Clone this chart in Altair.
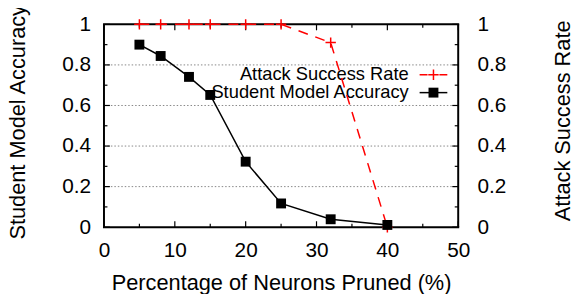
import altair as alt
import pandas as pd

# ---- data ----
pruned = [5, 8, 12, 15, 20, 25, 32, 40]
student_acc = [0.90, 0.844, 0.741, 0.652, 0.323, 0.117, 0.039, 0.011]
attack_sr = [1.0, 1.0, 1.0, 1.0, 1.0, 1.0, 0.91, 0.0]

x_major = [0, 10, 20, 30, 40, 50]
x_minor = [5, 15, 25, 35, 45]
y_major = [0, 0.2, 0.4, 0.6, 0.8, 1]
y_minor = [0.1, 0.3, 0.5, 0.7, 0.9]
y_grid = [0.2, 0.4, 0.6, 0.8]
legend_labels = ["Attack Success Rate", "Student Model Accuracy"]

W, H = 358, 205
FONT = "Liberation Sans"
RED = "#ff0000"
PLUS = "M-1,0H1M0,-1V1"
TFS = 22

df = pd.DataFrame({"x": pruned, "acc": student_acc, "asr": attack_sr})
d_xmaj = pd.DataFrame({"x": x_major})
d_xmin = pd.DataFrame({"x": x_minor})
d_ymaj = pd.DataFrame({"acc": y_major})
d_ymin = pd.DataFrame({"acc": y_minor})
d_grid = pd.DataFrame({"acc": y_grid})
d_frame_h = pd.DataFrame({"acc": [y_major[0], y_major[-1]]})
d_frame_v = pd.DataFrame({"x": [x_major[0], x_major[-1]]})
d_leg0 = pd.DataFrame({"label": [legend_labels[0]]})
d_leg1 = pd.DataFrame({"label": [legend_labels[1]]})

xs = alt.Scale(domain=[0, 50], nice=False, zero=False)
ys = alt.Scale(domain=[0, 1], nice=False, zero=False)

x_axis = alt.Axis(
    orient="bottom", values=x_major, format="~f", ticks=False, domain=False, grid=False,
    labelPadding=13, labelFontSize=21, labelFont=FONT, labelColor="black",
    labelFlush=False, labelOverlap=False, labelBound=False,
    title="Percentage of Neurons Pruned (%)", titleFontSize=TFS, titleFont=FONT,
    titleFontWeight="normal", titleColor="black",
    titleX=179, titleY=62.5, titleAlign="center", titleBaseline="alphabetic",
)
yl_axis = alt.Axis(
    orient="left", values=y_major, format="~f", ticks=False, domain=False, grid=False,
    labelPadding=13.5, labelFontSize=21, labelFont=FONT, labelColor="black",
    labelOverlap=False, labelBound=False,
    title="Student Model Accuracy", titleFontSize=TFS, titleFont=FONT,
    titleFontWeight="normal", titleColor="black",
    titleX=-80, titleY=98.5, titleAngle=270, titleAlign="center",
    titleBaseline="alphabetic",
)
yr_axis = alt.Axis(
    orient="right", values=y_major, format="~f", ticks=False, domain=False,
    grid=False, labelPadding=19, labelFontSize=21, labelFont=FONT,
    labelColor="black", labelOverlap=False, labelBound=False,
    title="Attack Success Rate", titleFontSize=TFS, titleFont=FONT,
    titleFontWeight="normal", titleColor="black",
    titleX=112, titleY=97, titleAngle=270, titleAlign="center",
    titleBaseline="alphabetic",
)

X = alt.X("x:Q", scale=xs, title="Percentage of Neurons Pruned (%)", axis=x_axis)
Y = alt.Y("acc:Q", scale=ys, title="Student Model Accuracy", axis=yl_axis)

# grid lines
grid = alt.Chart(d_grid).mark_rule(color="#888888", strokeDash=[1.5, 2], strokeWidth=1).encode(
    y=Y, x=alt.value(0), x2=alt.value(W)
)

# inward ticks
def xt(d, size):
    bot = alt.Chart(d).mark_rule(color="black", strokeWidth=1.2).encode(
        x=X, y=alt.value(H), y2=alt.value(H - size))
    top = alt.Chart(d).mark_rule(color="black", strokeWidth=1.2).encode(
        x=X, y=alt.value(0), y2=alt.value(size))
    return [bot, top]

def yt(d, size):
    left = alt.Chart(d).mark_rule(color="black", strokeWidth=1.2).encode(
        y=Y, x=alt.value(0), x2=alt.value(size))
    right = alt.Chart(d).mark_rule(color="black", strokeWidth=1.2).encode(
        y=Y, x=alt.value(W), x2=alt.value(W - size))
    return [left, right]

ticks = xt(d_xmaj, 6) + xt(d_xmin, 3.5) + yt(d_ymaj, 6) + yt(d_ymin, 3.5)

# plot frame (at the domain limits, through the scales)
frame_h = alt.Chart(d_frame_h).mark_rule(color="black", strokeWidth=2).encode(
    y=Y, x=alt.value(-1), x2=alt.value(W + 1))
frame_v = alt.Chart(d_frame_v).mark_rule(color="black", strokeWidth=2).encode(
    x=X, y=alt.value(0), y2=alt.value(H))

# legend (gnuplot style: text, then sample)
leg_t0 = alt.Chart(d_leg0).mark_text(align="right", baseline="middle", font=FONT, fontSize=18.5, color="black").encode(
    text="label:N", x=alt.value(308), y=alt.value(50))
leg_t1 = alt.Chart(d_leg1).mark_text(align="right", baseline="middle", font=FONT, fontSize=18.5, color="black").encode(
    text="label:N", x=alt.value(308), y=alt.value(68.5))
leg_l0 = alt.Chart(d_leg0).mark_rule(color=RED, strokeWidth=1.5, strokeDash=[8, 12]).encode(
    x=alt.value(319), x2=alt.value(347), y=alt.value(51))
leg_m0 = alt.Chart(d_leg0).mark_point(shape=PLUS, size=110, filled=False, color=RED, strokeWidth=1.5, opacity=1).encode(
    x=alt.value(333), y=alt.value(51))
leg_l1 = alt.Chart(d_leg1).mark_rule(color="black", strokeWidth=1.5).encode(
    x=alt.value(319), x2=alt.value(347), y=alt.value(69))
leg_m1 = alt.Chart(d_leg1).mark_square(size=100, color="black", opacity=1).encode(
    x=alt.value(333), y=alt.value(69))

# attack success rate (drawn on left scale, same 0..1 domain)
base_r = alt.Chart(df).encode(x=X, y=alt.Y("asr:Q", scale=ys, axis=yl_axis, title="Student Model Accuracy"))
asr_line = base_r.mark_line(color=RED, strokeWidth=1.5, strokeDash=[10, 8])
asr_pts = base_r.mark_point(shape=PLUS, size=110, filled=False, color=RED, strokeWidth=1.5, opacity=1)

# student model accuracy
base_l = alt.Chart(df).encode(x=X, y=Y)
acc_line = base_l.mark_line(color="black", strokeWidth=1.5)
acc_pts = base_l.mark_square(size=100, color="black", opacity=1)

main = alt.layer(grid, *ticks, frame_h, frame_v, leg_t0, leg_t1, leg_l0, leg_m0, leg_l1, leg_m1,
                 asr_line, asr_pts, acc_line, acc_pts)

# right axis carrier (invisible)
right = alt.Chart(df).mark_point(opacity=0).encode(
    x=X, y=alt.Y("asr:Q", scale=ys, axis=yr_axis, title="Attack Success Rate"))

chart = alt.layer(main, right).resolve_scale(y="independent").properties(
    width=W, height=H,
    autosize=alt.AutoSizeParams(type="none"),
    padding={"left": 97, "top": 15, "right": 114, "bottom": 66},
).configure_view(stroke=None)

chart.save("out.html", embed_options={"renderer": "svg", "actions": False})
